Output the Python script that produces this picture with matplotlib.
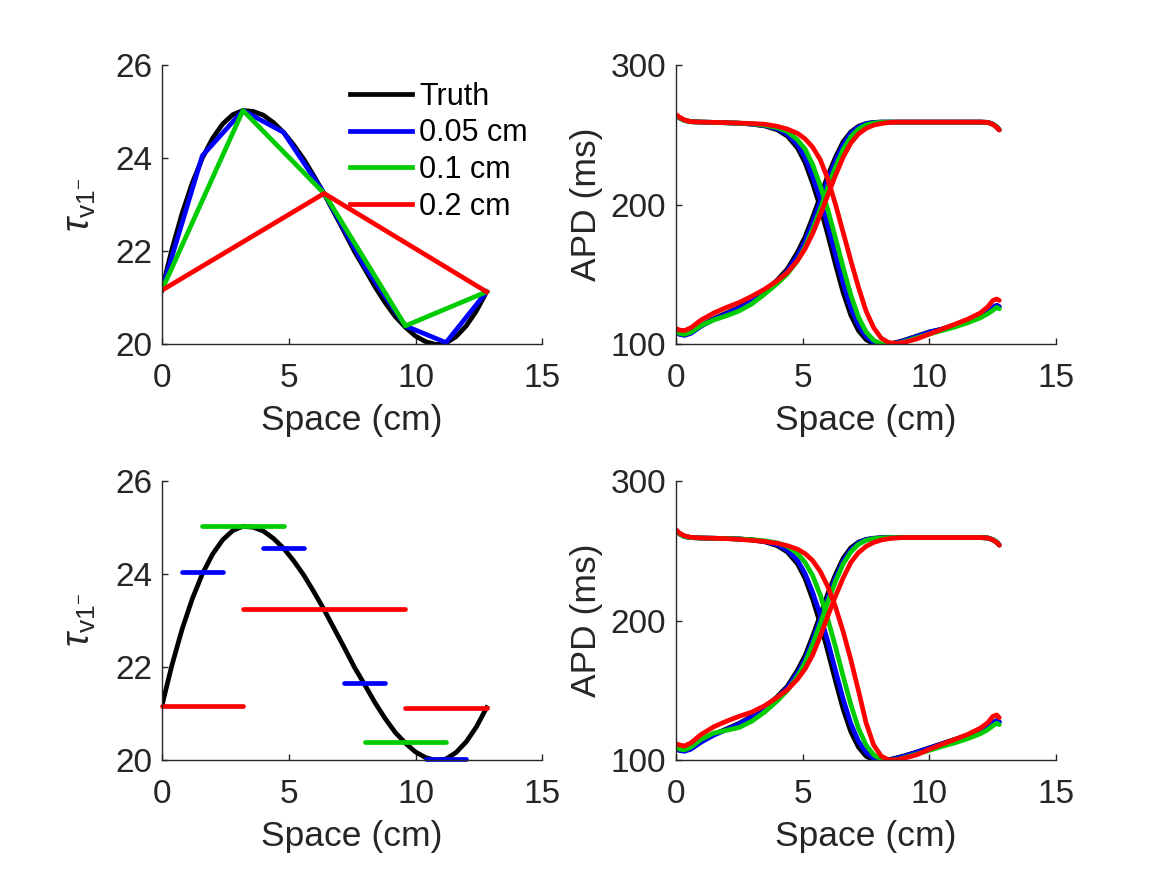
import matplotlib
matplotlib.use("Agg")
import matplotlib.pyplot as plt

plt.rcParams['font.family'] = ['Liberation Sans', 'DejaVu Sans']
plt.rcParams['mathtext.fontset'] = 'custom'
plt.rcParams['mathtext.rm'] = 'Liberation Sans'
plt.rcParams['mathtext.it'] = 'Liberation Sans:italic'

TXT = '#262626'
C_TRUTH = '#000000'
C_BLUE = '#0000ff'
C_GREEN = '#00cc00'
C_RED = '#ff0000'

# ---------------- parameter panel data ----------------
truth_x = [0.0, 0.4, 0.8, 1.2, 1.6, 2.0, 2.4, 2.8, 3.2, 3.6, 4.0, 4.4, 4.8, 5.2, 5.6, 6.0,
           6.4, 6.8, 7.2, 7.6, 8.0, 8.4, 8.8, 9.2, 9.6, 10.0, 10.4, 10.8, 11.2, 11.6,
           12.0, 12.4, 12.8]
truth_tau = [21.16, 22.04, 22.81, 23.46, 24.00, 24.42, 24.73, 24.93, 25.02, 25.00, 24.92,
             24.76, 24.55, 24.28, 23.97, 23.61, 23.23, 22.82, 22.41, 21.99, 21.62, 21.24,
             20.90, 20.60, 20.37, 20.18, 20.06, 20.00, 20.03, 20.17, 20.40, 20.72, 21.13]

blue_x = [0.0, 1.6, 3.2, 4.8, 6.4, 8.0, 9.6, 11.2, 12.8]
blue_tau = [21.16, 24.05, 25.02, 24.55, 23.24, 21.67, 20.40, 20.04, 21.13]
green_x = [0.0, 3.2, 6.4, 9.6, 12.8]
green_tau = [21.16, 25.02, 23.24, 20.40, 21.13]
red_x = [0.0, 6.4, 12.8]
red_tau = [21.16, 23.24, 21.13]

# bottom-left: detail segments (start, end, value)
blue_seg_x0 = [0.8, 4.0, 7.2, 10.4]
blue_seg_x1 = [2.4, 5.6, 8.8, 12.0]
blue_seg_v = [24.05, 24.55, 21.67, 20.04]
green_seg_x0 = [1.6, 8.0]
green_seg_x1 = [4.8, 11.2]
green_seg_v = [25.02, 20.40]
red_seg_x0 = [0.0, 3.2, 9.6]
red_seg_x1 = [3.2, 9.6, 12.8]
red_seg_v = [21.16, 23.24, 21.13]

legend_labels = ['Truth', '0.05 cm', '0.1 cm', '0.2 cm']

# ---------------- APD panel data ----------------
apd_x = [0.0, 0.15, 0.35, 0.6, 1.0, 1.5, 2.0, 2.5, 3.0, 3.5, 4.0, 4.4, 4.8, 5.1, 5.4, 5.7,
         6.0, 6.3, 6.6, 6.9, 7.2, 7.5, 7.8, 8.1, 8.4, 8.7, 9.0, 9.5, 10.0, 10.5, 11.0,
         11.5, 12.0, 12.3, 12.5, 12.65, 12.75]

# top-right (APD for top-left parameter fields)
t_up_truth = [109, 107.5, 106.8, 108.5, 113.5, 118.5, 122.5, 126.5, 131.5, 138, 146, 154,
              166, 177, 191, 206, 221, 234, 245, 252, 256, 258, 258.8, 259, 259, 259, 259,
              259, 259, 259, 259, 259, 259, 258.8, 257.5, 255.5, 253.5]
t_up_blue = [109, 107.3, 106.5, 108, 113, 118, 122, 126, 131, 137.5, 145, 152.5, 163.5,
             174, 187.5, 202.5, 218, 231.5, 243, 251, 255.5, 257.8, 258.7, 259, 259, 259,
             259, 259, 259, 259, 259, 259, 259, 258.8, 257.5, 255.5, 253.5]
t_up_green = [109.5, 108, 107.2, 108.8, 113.5, 117.5, 120.5, 124, 129, 136, 143.5, 150.5,
              160, 170, 182.5, 197, 212.5, 227, 239.5, 248.5, 254, 257, 258.3, 258.9, 259,
              259, 259, 259, 259, 259, 259, 259, 259, 258.8, 257.5, 255.5, 253.5]
t_up_red = [111.5, 110.3, 110, 112, 117.5, 122.5, 126.5, 130, 134.5, 139.5, 145.5, 151.5,
            160, 168.5, 179.5, 193, 207, 221, 234, 244, 250.5, 254.5, 256.8, 258, 258.7,
            259, 259, 259, 259, 259, 259, 259, 259, 258.8, 257.3, 255.3, 253.3]
t_dn_truth = [264, 262, 260.2, 259.3, 259, 258.8, 258.5, 258.2, 257.5, 256.3, 253.5, 249,
              240.5, 230, 215, 198, 178, 157, 137, 121, 110, 103.5, 100.5, 100, 100.3,
              101.5, 103, 106, 109, 111, 114, 117, 121, 124, 126.5, 128, 127]
t_dn_blue = [264, 262, 260.2, 259.3, 259, 258.8, 258.5, 258.2, 257.6, 256.5, 254.2, 250.3,
             243, 233.5, 220, 203.7, 184.7, 164, 143.7, 126.3, 113.7, 105.7, 101.5, 100.2,
             100, 101.2, 102.8, 105.8, 108.8, 111, 114, 117, 121, 124, 126.5, 128, 127]
t_dn_green = [264, 262, 260.2, 259.3, 259, 258.8, 258.5, 258.2, 257.8, 256.8, 255, 252.3,
              246.3, 239.7, 228.5, 213.3, 196, 175.9, 155, 135.4, 119.7, 109, 103, 100.4,
              100, 100.8, 102, 104.8, 107.5, 110, 112.5, 115.5, 119, 122, 124.5, 126.5,
              125.5]
t_dn_red = [264.5, 262.5, 260.5, 259.3, 259, 258.8, 258.6, 258.3, 258, 257.5, 256, 254, 251,
            247, 241, 232, 218, 200, 180, 160, 141, 124, 112, 104.5, 101.3, 100.8, 101.5,
            104, 107.5, 111, 114.5, 118, 122.5, 127, 131.5, 132.5, 131.5]

# bottom-right (APD for bottom-left parameter fields)
b_up_truth = [109, 107.5, 107, 108.5, 113.5, 118.5, 122.5, 126.5, 131.5, 137.5, 145.5, 153,
              164.5, 175, 189, 204, 219.5, 233, 244.5, 252, 256, 258, 258.8, 259.2, 259.3,
              259.3, 259.3, 259.3, 259.3, 259.3, 259.3, 259.3, 259.3, 259, 257.8, 256, 254]
b_up_blue = [108.5, 107, 106.5, 108, 113, 118, 122, 126, 131, 137, 144.5, 152, 162.5,
             172.5, 186, 201, 216.5, 230.5, 242.5, 250.5, 255.5, 257.8, 258.7, 259.2,
             259.3, 259.3, 259.3, 259.3, 259.3, 259.3, 259.3, 259.3, 259.3, 259, 257.8,
             256, 254]
b_up_green = [109.5, 108, 107.5, 109.5, 115, 119.5, 121.5, 123.5, 128, 134.5, 142.5, 150,
              160, 170, 183, 198, 213.5, 228, 240.5, 249, 254.5, 257.3, 258.5, 259, 259.3,
              259.3, 259.3, 259.3, 259.3, 259.3, 259.3, 259.3, 259.3, 259, 257.8, 256, 254]
b_up_red = [112, 111, 110.3, 112.5, 118.5, 124, 128, 131.5, 134.5, 139, 145, 150.5, 158,
            165.5, 175.5, 189, 203.5, 217.5, 230.5, 241.5, 248.5, 253, 255.8, 257.5, 258.5,
            259, 259.3, 259.3, 259.3, 259.3, 259.3, 259.3, 259.3, 259, 257.6, 255.8, 253.8]
b_dn_truth = [264.5, 262, 260, 259.3, 259, 258.8, 258.6, 258.3, 257.6, 256.3, 253.5, 249,
              240.5, 230, 215, 197.5, 177.5, 156.5, 136.5, 120.5, 109.5, 103, 100.3, 99.8,
              100.5, 101.8, 103.2, 106, 109, 112, 115, 118, 121.5, 124.5, 127, 128.5, 127.5]
b_dn_blue = [264.5, 262, 260, 259.3, 259, 258.8, 258.6, 258.3, 257.7, 256.5, 254.2, 250.3,
             243, 233.5, 220, 203.7, 184.7, 164, 143.7, 126.3, 113.7, 105.7, 101.5, 100.2,
             100.2, 101.5, 103, 105.8, 108.8, 111.8, 114.8, 117.8, 121.3, 124.3, 126.8,
             128.3, 127.3]
b_dn_green = [264.5, 262, 260, 259.3, 259, 258.8, 258.6, 258.3, 257.8, 257, 255.5, 253,
              248, 241.5, 232, 218, 200.5, 181, 160, 140, 123, 111, 104, 100.6, 100,
              100.5, 101.8, 104.5, 107.2, 110, 112.5, 115.5, 119, 122, 124.8, 126.5, 125.5]
b_dn_red = [265, 262.5, 260.5, 259.5, 259, 258.8, 258.5, 258, 257.3, 256.5, 255.2, 253.5,
            251, 247.8, 242.8, 235, 224, 209.5, 192, 172, 150, 127, 111, 103, 100.3, 100.3,
            101.5, 104, 108, 111.5, 115, 118.5, 123, 127, 131.5, 132.5, 130.5]

# ---------------- figure ----------------
fig = plt.figure(figsize=(11.67, 8.75), dpi=100)
W, H = 0.3262, 0.3197
ax_tl = fig.add_axes([0.1386, 0.6063, W, H])
ax_tr = fig.add_axes([0.5790, 0.6063, W, H])
ax_bl = fig.add_axes([0.1386, 0.1310, W, H])
ax_br = fig.add_axes([0.5790, 0.1310, W, H])

LW = 3.4
FS_TICK = 24
FS_LABEL = 25.5

ax_tl.plot(truth_x, truth_tau, color=C_TRUTH, lw=LW, label=legend_labels[0])
ax_tl.plot(blue_x, blue_tau, color=C_BLUE, lw=LW, label=legend_labels[1])
ax_tl.plot(green_x, green_tau, color=C_GREEN, lw=LW, label=legend_labels[2])
ax_tl.plot(red_x, red_tau, color=C_RED, lw=LW, label=legend_labels[3])
leg = ax_tl.legend(loc='upper left', bbox_to_anchor=(0.494, 0.94), frameon=False,
                   fontsize=22, handlelength=2.03, handletextpad=0.25, labelspacing=0.22,
                   borderpad=0, borderaxespad=0)
for t in leg.get_texts():
    t.set_color('#000000')

ax_bl.plot(truth_x, truth_tau, color=C_TRUTH, lw=LW)
for x0s, x1s, vs, c in [(blue_seg_x0, blue_seg_x1, blue_seg_v, C_BLUE),
                        (green_seg_x0, green_seg_x1, green_seg_v, C_GREEN),
                        (red_seg_x0, red_seg_x1, red_seg_v, C_RED)]:
    for a, b, v in zip(x0s, x1s, vs):
        ax_bl.plot([a, b], [v, v], color=c, lw=LW, solid_capstyle='round', clip_on=False)

for ax, series in [(ax_tr, [(t_up_truth, t_dn_truth, C_TRUTH), (t_up_blue, t_dn_blue, C_BLUE),
                            (t_up_green, t_dn_green, C_GREEN), (t_up_red, t_dn_red, C_RED)]),
                   (ax_br, [(b_up_truth, b_dn_truth, C_TRUTH), (b_up_blue, b_dn_blue, C_BLUE),
                            (b_up_green, b_dn_green, C_GREEN), (b_up_red, b_dn_red, C_RED)])]:
    for up, dn, c in series:
        ax.plot(apd_x, up, color=c, lw=LW, solid_joinstyle='round', solid_capstyle='round')
        ax.plot(apd_x, dn, color=c, lw=LW, solid_joinstyle='round', solid_capstyle='round')

for ax in [ax_tl, ax_bl]:
    ax.set_ylim(20, 26)
    ax.set_yticks([20, 22, 24, 26])
    ax.set_ylabel(r'$\tau_{\mathrm{v1}^{-}}$', fontsize=27, color=TXT, labelpad=12)
for ax in [ax_tr, ax_br]:
    ax.set_ylim(100, 300)
    ax.set_yticks([100, 200, 300])
    ax.set_ylabel('APD (ms)', fontsize=FS_LABEL, color=TXT, labelpad=5)

for ax in [ax_tl, ax_tr, ax_bl, ax_br]:
    ax.set_xlim(0, 15)
    ax.set_xticks([0, 5, 10, 15])
    ax.set_xlabel('Space (cm)', fontsize=FS_LABEL, color=TXT, labelpad=7)
    ax.spines['top'].set_visible(False)
    ax.spines['right'].set_visible(False)
    for s in ['left', 'bottom']:
        ax.spines[s].set_color(TXT)
        ax.spines[s].set_linewidth(1.0)
    ax.tick_params(direction='in', length=4, width=1.0, colors=TXT, labelsize=FS_TICK)
    ax.tick_params(axis='x', pad=13.5)
    ax.tick_params(axis='y', pad=7)

fig.savefig('out.png', dpi=100)
